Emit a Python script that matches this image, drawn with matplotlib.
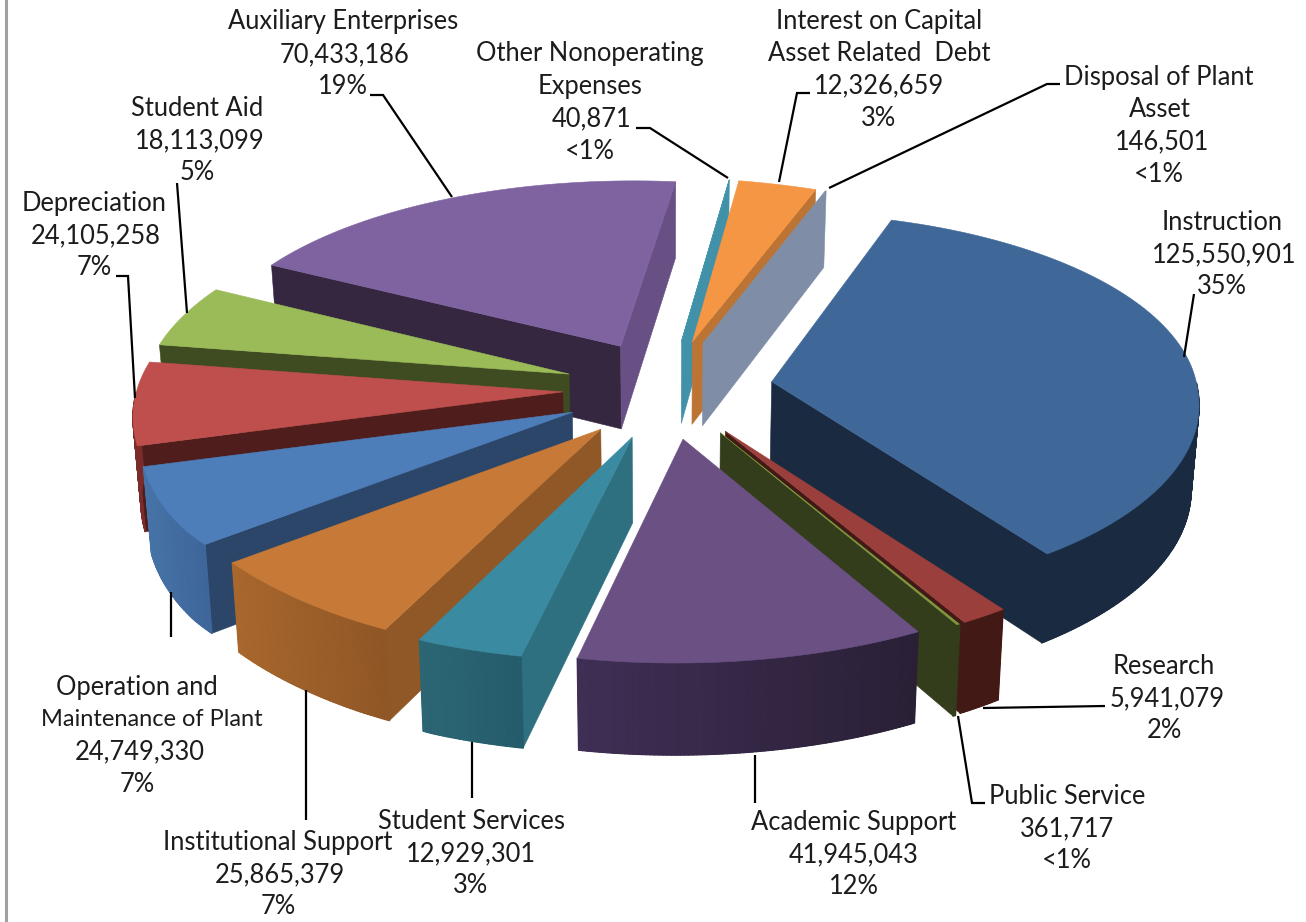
import numpy as np
import matplotlib
matplotlib.use('Agg')
import matplotlib.pyplot as plt
from matplotlib.collections import PolyCollection
from matplotlib.colors import to_rgb

# values in dollars, clockwise from the first slice
names = [['Instruction'], ['Research'], ['Public Service'], ['Academic Support'], ['Student Services'],
         ['Institutional Support'], ['Operation and', 'Maintenance of Plant'], ['Depreciation'], ['Student Aid'],
         ['Auxiliary Enterprises'], ['Other Nonoperating', 'Expenses'], ['Interest on Capital', 'Asset Related  Debt'],
         ['Disposal of Plant', 'Asset']]
values = [125550901, 5941079, 361717, 41945043, 12929301, 25865379, 24749330, 24105258, 18113099, 70433186,
          40871, 12326659, 146501]
pct_labels = ['35%', '2%', '<1%', '12%', '3%', '7%', '7%', '7%', '5%', '19%', '<1%', '3%', '<1%']

# slice colours
top_colors = ['#3F6898', '#9A3F3B', '#7F9A3F', '#6A5083', '#3A8BA2', '#C77A37', '#4D7EBA', '#BE4F4C', '#9BBB58',
              '#7F63A1', '#4198AF', '#F59644', '#8090A8']
start_face = ['#1A2B41', '#421915', '#333D1B', '#3A2B4F', '#2E6F80', '#8F5826', '#2B4669', '#4F1E1C', '#3F4C22',
              '#352740', '#4191A8', '#BB7433', '#7F8EA6']
end_face = ['#1A2B41', '#421915', '#333D1B', '#3A2B4F', '#2E6F80', '#8F5826', '#2B4669', '#4F1E1C', '#3F4C22',
            '#685085', '#4191A8', '#BB7433', '#7F8EA6']
wall_left = ['#1A2B41', '#421915', '#333D1B', '#3F2F55', '#2C6675', '#A9672D', '#4673A7', '#7A2C2A', '#3F4C22',
             '#352740', '#4191A8', '#BB7433', '#7F8EA6']
wall_right = ['#1A2B41', '#421915', '#333D1B', '#2A2036', '#255C6B', '#8F5726', '#3F669A', '#7A2C2A', '#3F4C22',
              '#352740', '#4191A8', '#BB7433', '#7F8EA6']

# label layout: x of each line, y of first line, leader polyline
label_x = [[1222, 1224, 1222], [1164, 1167, 1164], [1067, 1067, 1067], [854, 854, 854], [471, 471, 471],
           [278, 280, 278], [137, 152, 140, 137], [94, 96, 94], [197, 200, 197], [343, 345, 343],
           [590, 590, 592, 590], [879, 879, 879, 879], [1159, 1160, 1162, 1159]]
label_y = [222, 666, 796, 822, 821, 842, 687, 203, 108, 22, 54, 21, 77]
leaders = [[(1194, 294), (1184, 357)], [(983, 708), (1105, 706)], [(958, 716), (972, 803), (985, 803)],
           [(755, 755), (755, 803)], [(472, 742), (472, 798)], [(306, 690), (306, 820)], [(171, 592), (171, 637)],
           [(116, 276), (128, 276), (135, 398)], [(177, 183), (187, 313)], [(370, 95), (383, 95), (452, 197)],
           [(636, 128), (650, 128), (728, 178)], [(810, 93), (797, 93), (779, 182)],
           [(1060, 84), (1047, 84), (829, 188)]]

CX, CY = 668, 389
TILT = 0.473
RADIUS = 426
EXPLODE = 105
DEPTH = 84
START_ANGLE = 19


def project(X, Y, bottom=False):
    X, Y = np.asarray(X, dtype=float), np.asarray(Y, dtype=float)
    s = 1 + 0.000235 * Y - 1.09e-7 * Y ** 2
    x = CX + X * s
    y = CY + TILT * Y * s
    # the original camera is a little off centre, front left pulls out, back right too
    front = 0.05 * np.clip(Y, 0, None) * np.clip((230 - X) / 500, 0, 1) * np.clip((X + 540) / 100, 0, 1)
    back = 0.024 * np.clip(-Y, 0, None) * np.clip((X + 700) / 1000, 0, 1)
    x = x - front + back
    y = y - 0.4 * front * np.clip((-X - 200) / 200, 0, 1) + 0.014 * np.clip(-Y, 0, None) * np.clip(X / 243, 0, 1)
    if bottom:
        x = CX + (x - CX) * 0.985
        y = y + DEPTH * (1 + 0.00018 * Y)
    return x, y


fig = plt.figure(figsize=(13.06, 9.22), dpi=100)
ax = fig.add_axes([0, 0, 1, 1])
ax.set_xlim(0, 1306)
ax.set_ylim(922, 0)
ax.axis('off')

# grey frame edge on the left
ax.plot([5.5, 5.5], [0, 922], color='#A0A0A0', lw=2.2, zorder=1)

values_arr = np.array(values, dtype=float)
edges = START_ANGLE + np.concatenate([[0], np.cumsum(values_arr) / values_arr.sum() * 360])
mids = np.radians((edges[:-1] + edges[1:]) / 2)

# back slices first
order = np.argsort(-EXPLODE * np.cos(mids))
z = 2
for i in order:
    t0, t1 = np.radians(edges[i]), np.radians(edges[i + 1])
    ox, oy = EXPLODE * np.sin(mids[i]), -EXPLODE * np.cos(mids[i])
    theta = np.linspace(t0, t1, max(int(np.degrees(t1 - t0) * 2), 2))
    rim_x = ox + RADIUS * np.sin(theta)
    rim_y = oy - RADIUS * np.cos(theta)

    apex_top = project(ox, oy)
    apex_bot = project(ox, oy, True)
    tx, ty = project(rim_x, rim_y)
    bx, by = project(rim_x, rim_y, True)

    # cut faces, only the ones turned to the viewer
    if np.sin(t0) < 0:
        ax.fill([apex_top[0], tx[0], bx[0], apex_bot[0]], [apex_top[1], ty[0], by[0], apex_bot[1]],
                color=start_face[i], lw=0.4, zorder=z)
        z += 1
    if np.sin(t1) > 0:
        ax.fill([apex_top[0], tx[-1], bx[-1], apex_bot[0]], [apex_top[1], ty[-1], by[-1], apex_bot[1]],
                color=end_face[i], lw=0.4, zorder=z)
        z += 1

    # outer wall in small quads, colour runs left to right
    front = np.cos(theta) < 0
    if front.any():
        ax.fill(np.r_[tx[front], bx[front][::-1]], np.r_[ty[front], by[front][::-1]], color=wall_right[i], lw=0.4,
                zorder=z)
        z += 1
        xmin, xmax = tx[front].min(), tx[front].max()
        quads, cols = [], []
        for j in range(len(theta) - 1):
            if front[j] and front[j + 1]:
                quads.append([(tx[j], ty[j]), (tx[j + 1], ty[j + 1]), (bx[j + 1], by[j + 1]), (bx[j], by[j])])
                f = (tx[j] - xmin) / max(xmax - xmin, 1)
                cols.append(np.array(to_rgb(wall_left[i])) * (1 - f) + np.array(to_rgb(wall_right[i])) * f)
        if quads:
            ax.add_collection(PolyCollection(quads, facecolors=cols, edgecolors=cols, linewidths=1.0, zorder=z))
            z += 1

    # top face
    ax.fill(np.r_[apex_top[0], tx], np.r_[apex_top[1], ty], color=top_colors[i], lw=0.4, zorder=z)
    z += 1

# labels and leader lines
for i in range(len(values)):
    lines = names[i] + [f'{values[i]:,}', pct_labels[i]]
    for j, line in enumerate(lines):
        size = 17 if line.startswith('Maintenance') else 18.4
        ax.text(label_x[i][j], label_y[i] + j * 32.4, line, family='Lato', fontsize=size, color='#1C1C1C',
                ha='center', va='center', zorder=z + 2)
    pts = leaders[i]
    ax.plot([p[0] for p in pts], [p[1] for p in pts], color='black', lw=1.6, zorder=z + 1,
            solid_joinstyle='miter', solid_capstyle='butt')

plt.savefig('out.png', dpi=100)
plt.close()
